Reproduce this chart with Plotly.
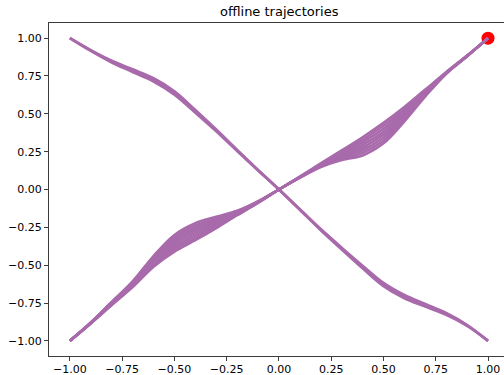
import plotly.graph_objects as go

# Sample positions along x shared by every trajectory
X = [-1.0, -0.9, -0.8, -0.7, -0.6, -0.5, -0.4, -0.3, -0.2, -0.1, 0.0,
     0.1, 0.2, 0.3, 0.4, 0.5, 0.6, 0.7, 0.8, 0.9, 1.0]

# Trajectories running from (-1, 1) to (1, -1)
down_1 = [1.0, 0.921, 0.851, 0.794, 0.735, 0.649, 0.525, 0.396, 0.262, 0.130, 0.0,
          -0.130, -0.261, -0.384, -0.503, -0.617, -0.697, -0.756, -0.816, -0.895, -1.0]
down_2 = [1.0, 0.918, 0.845, 0.785, 0.724, 0.638, 0.516, 0.390, 0.258, 0.128, 0.0,
          -0.132, -0.265, -0.390, -0.512, -0.628, -0.708, -0.765, -0.822, -0.898, -1.0]
down_3 = [1.0, 0.915, 0.839, 0.776, 0.713, 0.627, 0.507, 0.384, 0.254, 0.126, 0.0,
          -0.134, -0.269, -0.396, -0.521, -0.639, -0.719, -0.774, -0.828, -0.901, -1.0]

# Trajectories running from (-1, -1) to (1, 1)
up_1 = [-1.0, -0.885, -0.764, -0.645, -0.510, -0.410, -0.335, -0.255, -0.170, -0.088, 0.0,
        0.078, 0.148, 0.195, 0.225, 0.305, 0.450, 0.615, 0.765, 0.880, 1.0]
up_2 = [-1.0, -0.884, -0.761, -0.640, -0.500, -0.394, -0.319, -0.244, -0.166, -0.087, 0.0,
        0.079, 0.151, 0.204, 0.242, 0.324, 0.464, 0.621, 0.766, 0.881, 1.0]
up_3 = [-1.0, -0.883, -0.758, -0.634, -0.490, -0.379, -0.303, -0.234, -0.161, -0.085, 0.0,
        0.080, 0.155, 0.213, 0.259, 0.344, 0.477, 0.628, 0.768, 0.881, 1.0]
up_4 = [-1.0, -0.882, -0.755, -0.629, -0.480, -0.363, -0.287, -0.223, -0.157, -0.084, 0.0,
        0.081, 0.158, 0.222, 0.276, 0.363, 0.491, 0.634, 0.769, 0.882, 1.0]
up_5 = [-1.0, -0.881, -0.751, -0.623, -0.470, -0.347, -0.270, -0.212, -0.153, -0.082, 0.0,
        0.082, 0.162, 0.231, 0.294, 0.382, 0.504, 0.641, 0.771, 0.883, 1.0]
up_6 = [-1.0, -0.880, -0.748, -0.618, -0.460, -0.331, -0.254, -0.201, -0.149, -0.081, 0.0,
        0.083, 0.165, 0.240, 0.311, 0.401, 0.518, 0.647, 0.772, 0.883, 1.0]
up_7 = [-1.0, -0.879, -0.745, -0.612, -0.450, -0.316, -0.238, -0.191, -0.144, -0.079, 0.0,
        0.084, 0.169, 0.249, 0.328, 0.421, 0.531, 0.654, 0.774, 0.884, 1.0]
up_8 = [-1.0, -0.878, -0.742, -0.607, -0.440, -0.300, -0.222, -0.180, -0.140, -0.078, 0.0,
        0.085, 0.172, 0.258, 0.345, 0.440, 0.545, 0.660, 0.775, 0.885, 1.0]

# Goal point
GOAL_X = [1.0]
GOAL_Y = [1.0]

# Tick positions and labels
TICK_VALS = [-1.0, -0.75, -0.5, -0.25, 0.0, 0.25, 0.5, 0.75, 1.0]
TICK_TEXT = ["\u22121.00", "\u22120.75", "\u22120.50", "\u22120.25", "0.00",
             "0.25", "0.50", "0.75", "1.00"]

TRAJ_COLOR = "#a86aab"
AXIS_COLOR = "#3c3c3c"
FONT = "DejaVu Sans"

fig = go.Figure()

fig.add_trace(go.Scatter(
    x=GOAL_X, y=GOAL_Y, mode="markers",
    marker=dict(color="#ff0000", size=13, line=dict(width=0)),
    showlegend=False, hoverinfo="skip",
))

for ys in [up_1, up_2, up_3, up_4, up_5, up_6, up_7, up_8, down_1, down_2, down_3]:
    fig.add_trace(go.Scatter(
        x=X, y=ys, mode="lines",
        line=dict(color=TRAJ_COLOR, width=2.6, shape="spline", smoothing=1.0),
        showlegend=False, hoverinfo="skip",
    ))

axis_style = dict(
    showgrid=False, zeroline=False, automargin=False,
    showline=True, linecolor=AXIS_COLOR, linewidth=1,
    ticks="outside", ticklen=4, tickwidth=1, tickcolor=AXIS_COLOR,
    tickvals=TICK_VALS, ticktext=TICK_TEXT,
    tickfont=dict(family=FONT, size=11, color="black"),
)

fig.update_layout(
    width=504, height=375,
    margin=dict(l=49, r=0, t=23, b=19),
    paper_bgcolor="white", plot_bgcolor="white",
    title=dict(
        text="offline trajectories",
        font=dict(family=FONT, size=13, color="black"),
        xref="paper", x=0.506, xanchor="center",
        yref="container", y=0.969, yanchor="middle",
    ),
    xaxis=dict(range=[-1.1, 1.0765], mirror=True, ticklabelstandoff=-1, **axis_style),
    yaxis=dict(range=[-1.1, 1.1], mirror=False, **axis_style),
)

fig.write_html("out.html", config=dict(displayModeBar=False))
